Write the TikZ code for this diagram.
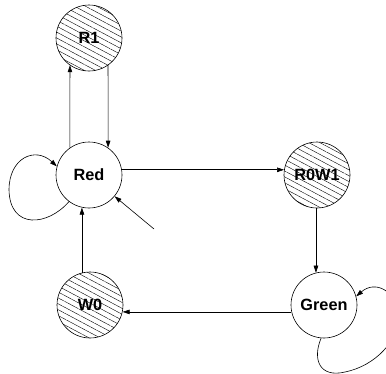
\documentclass[tikz,border=0pt]{standalone}
\usepackage{fontspec}
\setmainfont{Liberation Sans}
\usetikzlibrary{arrows.meta,patterns.meta}
\tikzset{
  state/.style={circle, draw, line width=0.6pt, minimum size=66pt, inner sep=0pt,
    font=\fontsize{16.3}{16.3}\selectfont\bfseries},
  hatched/.style={state, pattern={Lines[angle=-28, distance=5.2pt, line width=0.4pt]}},
  edge/.style={line width=0.6pt, -{Triangle[length=7pt, width=4.5pt]}}
}
\begin{document}
\begin{tikzpicture}[x=1pt, y=-1pt]
  \useasboundingbox (0,0) rectangle (386,373);
  \begin{scope}
  \clip (0,0) rectangle (386,373);
  % states
  \node[hatched] (r1) at (89,38) {R1};
  \node[state] (red) at (89,175) {Red};
  \node[hatched] (rw) at (317,175) {R0W1};
  \node[state] (green) at (324,305) {Green};
  \node[hatched] (w0) at (90,305) {W0};
  \coordinate (init) at (154,229);
  % transitions
  \draw[edge] (red.125) -- (r1.235);
  \draw[edge] (r1.305) -- (red.55);
  \draw[edge] (red.9) -- (rw.171);
  \draw[edge] (green.104 |- rw.south) -- (green.104);
  \draw[edge] (green.192) -- (w0.348);
  \draw[edge] (w0.104) -- (w0.104 |- red.258);
  \draw[edge] (init) -- (red);
  % self loops
  \draw[edge] (red.233) .. controls (48,226) and (10,230) .. (9,190)
              .. controls (9,158) and (35,146) .. (red.165);
  \draw[edge] (green.265) .. controls (312,360) and (320,378) .. (345,372)
              .. controls (375,366) and (400,340) .. (398,315)
              .. controls (396,290) and (375,280) .. (green.15);
  \end{scope}
\end{tikzpicture}
\end{document}
